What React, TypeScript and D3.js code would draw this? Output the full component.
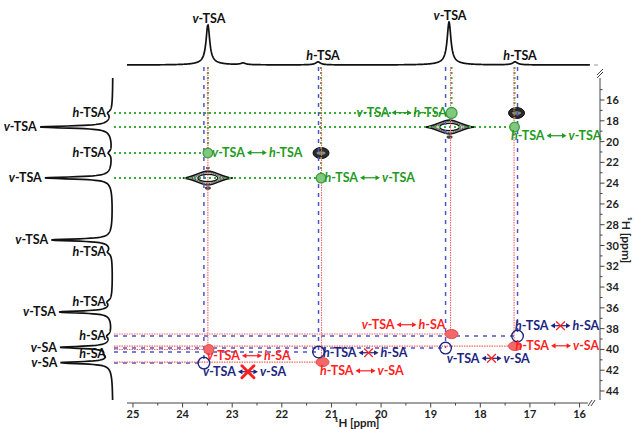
import React from 'react';
import * as d3 from 'd3';

// ---------- data ----------
const F2_TICKS = [25, 24, 23, 22, 21, 20, 19, 18, 17, 16];
const F2_MINOR = [24.5, 23.5, 22.5, 21.5, 20.5, 19.5, 18.5, 17.5, 16.5];
const F1_TICKS = [16, 18, 20, 22, 24, 26, 28, 30, 32, 34, 36, 38, 40, 42, 44];
const F1_MINOR = [15, 17, 19, 21, 23, 25, 27, 29, 31, 33, 35, 37, 39, 41, 43];

// top (F2) projection
const topPeakPpm = [23.49, 22.78, 21.27, 18.63, 17.3];
const topPeakIntensity = [0.93, 0.04, 0.07, 1.0, 0.07];
const topPeakWidth = [0.045, 0.06, 0.06, 0.045, 0.06];
const topPeakLabels = ['v-TSA', '', 'h-TSA', 'v-TSA', 'h-TSA'];

// left (F1) projection
const leftPeakPpm = [17.25, 18.6, 21.1, 23.5, 29.47, 30.63, 35.44, 36.4, 38.71, 39.8, 40.44, 41.28];
const leftPeakIntensity = [0.05, 1.0, 0.05, 0.93, 0.84, 0.05, 0.05, 0.73, 0.05, 0.7, 0.05, 0.7];
const leftPeakWidth = [0.22, 0.12, 0.22, 0.12, 0.12, 0.22, 0.22, 0.12, 0.22, 0.12, 0.22, 0.12];
const leftPeakLabels = ['h-TSA', 'v-TSA', 'h-TSA', 'v-TSA', 'v-TSA', 'h-TSA', 'h-TSA', 'v-TSA', 'h-SA', 'v-SA', 'h-SA', 'v-SA'];

// diagonal peaks
const diagF2 = [17.27, 18.62, 21.21, 23.49];
const diagF1 = [17.25, 18.6, 21.1, 23.51];
const diagType = ['h', 'v', 'h', 'v'];

// green cross peaks (TSA-TSA)
const greenF2 = [18.58, 17.31, 23.49, 21.21];
const greenF1 = [17.25, 18.6, 21.1, 23.51];
const greenLabels = [['v-TSA', 'h-TSA'], ['h-TSA', 'v-TSA'], ['v-TSA', 'h-TSA'], ['h-TSA', 'v-TSA']];

// red cross peaks (observed TSA-SA)
const redF2 = [18.6, 17.32, 23.49, 21.2];
const redF1 = [38.52, 39.68, 40.01, 41.22];
const redLabels = [['v-TSA', 'h-SA'], ['h-TSA', 'v-SA'], ['v-TSA', 'h-SA'], ['h-TSA', 'v-SA']];

// blue (absent) cross peaks
const blueF2 = [17.25, 18.7, 21.26, 23.57];
const blueF1 = [38.71, 39.87, 40.25, 41.31];
const blueLabels = [['h-TSA', 'h-SA'], ['v-TSA', 'v-SA'], ['h-TSA', 'h-SA'], ['v-TSA', 'v-SA']];

// ---------- layout ----------
const greenLabelOffset = [[-50, 4], [42, 13], [49, 4], [49, 4]];
const redLabelOffset = [[-44, -5], [47, 4], [44, 10.5], [44, 13]];
const blueLabelOffset = [[43, -6], [46, 14.5], [50, 5], [44, 13]];

const FONT = "Lato, 'Open Sans', sans-serif";
const GREEN = '#1f9a22';
const RED = '#ff1f1f';
const BLUE = '#1c2680';

const x = d3.scaleLinear().domain([25.12, 15.85]).range([127, 587]);
const y = d3.scaleLinear().domain([16, 44]).range([100, 391]);

const TOP_BASE = 65;
const TOP_SCALE = 43;
const LEFT_BASE = 113;
const LEFT_SCALE = 73;

function lor(d: number, g: number) {
  return (g * g) / (d * d + g * g);
}

function topProfile(ppm: number) {
  let s = 0;
  topPeakPpm.forEach((p, i) => {
    const d = ppm - p;
    s += topPeakIntensity[i] * (0.95 * lor(d, topPeakWidth[i]) + 0.05 * lor(d, 0.25));
  });
  return s;
}

function leftProfile(ppm: number) {
  let s = 0;
  leftPeakPpm.forEach((p, i) => {
    const d = ppm - p;
    s += leftPeakIntensity[i] * (0.95 * lor(d, leftPeakWidth[i]) + 0.05 * lor(d, 0.9));
  });
  return s;
}

function Label({ cx, by, t1, t2, color, crossed, big }: any) {
  const hy = by - 4.3;
  const half = 10;
  const part = (t: string) => (
    <>
      <tspan fontStyle="italic">{t[0]}</tspan>
      <tspan>{t.slice(1)}</tspan>
    </>
  );
  const c = big ? 6 : 4;
  return (
    <g fontFamily={FONT} fontWeight={700} fontSize={12.5} fill={color}>
      <text x={cx - 12} y={by} textAnchor="end">{part(t1)}</text>
      <text x={cx + 12} y={by} textAnchor="start">{part(t2)}</text>
      <line x1={cx - half + 3} x2={cx + half - 3} y1={hy} y2={hy} stroke={color} strokeWidth={1.2} />
      <path d={`M${cx - half},${hy} l4.5,-2.6 v5.2 z`} fill={color} />
      <path d={`M${cx + half},${hy} l-4.5,-2.6 v5.2 z`} fill={color} />
      {crossed && (
        <g stroke={RED} strokeWidth={big ? 3 : 1.2} strokeLinecap="round">
          <line x1={cx - c} x2={cx + c} y1={hy - c} y2={hy + c} />
          <line x1={cx - c} x2={cx + c} y1={hy + c} y2={hy - c} />
        </g>
      )}
    </g>
  );
}

function diamondPath(cx: number, cy: number, a: number, b: number) {
  return `M${cx - a},${cy} C${cx - a * 0.55},${cy - b * 0.1} ${cx - a * 0.3},${cy - b} ${cx},${cy - b}` +
    ` C${cx + a * 0.3},${cy - b} ${cx + a * 0.55},${cy - b * 0.1} ${cx + a},${cy}` +
    ` C${cx + a * 0.55},${cy + b * 0.1} ${cx + a * 0.3},${cy + b} ${cx},${cy + b}` +
    ` C${cx - a * 0.3},${cy + b} ${cx - a * 0.55},${cy + b * 0.1} ${cx - a},${cy} Z`;
}

export default function App() {
  const topPts: [number, number][] = d3.range(127, 590.1, 0.3).map((px) => [px, TOP_BASE - topProfile(x.invert(px)) * TOP_SCALE]);
  const leftPts: [number, number][] = d3.range(78, 400.1, 0.3).map((py) => [LEFT_BASE - leftProfile(y.invert(py)) * LEFT_SCALE, py]);
  const line = d3.line();

  const LINE_TOP = 67;
  const LINE_LEFT = 114;

  return (
    <svg width={634} height={429} style={{ position: 'absolute', left: 0, top: 0, background: '#fff' }}>
      <rect width={634} height={429} fill="#fff" />

      {/* projections */}
      <path d={line(topPts) || ''} fill="none" stroke="#111" strokeWidth={1.7} />
      <line x1={594} x2={598} y1={TOP_BASE} y2={TOP_BASE} stroke="#999" strokeWidth={1} />
      <path d={line(leftPts) || ''} fill="none" stroke="#111" strokeWidth={1.7} />

      {/* projection labels */}
      <g fontFamily={FONT} fontWeight={700} fontSize={12.5} fill="#111">
        {topPeakLabels.map((lab, i) => {
          if (!lab) return null;
          const px = x(topPeakPpm[i]) + (lab[0] === 'h' ? 5 : 1);
          const top = TOP_BASE - topProfile(topPeakPpm[i]) * TOP_SCALE;
          return (
            <text key={'tl' + i} x={px} y={top - 2} textAnchor="middle">
              <tspan fontStyle="italic">{lab[0]}</tspan>{lab.slice(1)}
            </text>
          );
        })}
        {leftPeakLabels.map((lab, i) => {
          const py = y(leftPeakPpm[i]);
          const tip = LEFT_BASE - leftProfile(leftPeakPpm[i]) * LEFT_SCALE;
          const ex = lab[0] === 'h' ? 106 : tip - 3;
          return (
            <text key={'ll' + i} x={ex} y={py + 4.4} textAnchor="end">
              <tspan fontStyle="italic">{lab[0]}</tspan>{lab.slice(1)}
            </text>
          );
        })}
      </g>

      {/* diagonal peaks */}
      {diagF2.map((f2, i) => {
        const cx = x(f2), cy = y(diagF1[i]);
        if (diagType[i] === 'v') {
          return (
            <g key={'dg' + i}>
              <path d={diamondPath(cx, cy, 25, 7)} fill="#9a9a9a" stroke="#111" strokeWidth={1.4} />
              <path d={diamondPath(cx, cy, 19, 5.6)} fill="#d0d0d0" stroke="#444" strokeWidth={0.9} strokeDasharray="1.5,1" />
              <ellipse cx={cx} cy={cy} rx={10} ry={3.6} fill="#fff" stroke="#111" strokeWidth={1.3} />
              <ellipse cx={cx} cy={cy - 10} rx={2} ry={1.4} fill="#555" />
              <ellipse cx={cx} cy={cy + 10} rx={3} ry={1.8} fill="#444" />
            </g>
          );
        }
        return (
          <g key={'dg' + i}>
            <ellipse cx={cx} cy={cy} rx={8} ry={5.5} fill="#2a2a2a" stroke="#111" strokeWidth={1} />
            <ellipse cx={cx} cy={cy} rx={4.5} ry={1.8} fill="#8a8a8a" />
          </g>
        );
      })}

      {/* connecting lines */}
      <g fill="none">
        {greenF2.map((f2, i) => (
          <g key={'gl' + i} stroke="#3aab3a" strokeWidth={2} strokeDasharray="2,3">
            <line x1={x(f2)} x2={x(f2)} y1={LINE_TOP} y2={y(greenF1[i])} />
            <line x1={LINE_LEFT} x2={x(f2)} y1={y(greenF1[i])} y2={y(greenF1[i])} />
          </g>
        ))}
        {blueF2.map((f2, i) => (
          <g key={'bl' + i} stroke="#4c57c4" strokeWidth={1.5} strokeDasharray="4,5">
            <line x1={x(f2)} x2={x(f2)} y1={LINE_TOP} y2={y(blueF1[i])} />
            <line x1={LINE_LEFT} x2={x(f2)} y1={y(blueF1[i])} y2={y(blueF1[i])} />
          </g>
        ))}
        {redF2.map((f2, i) => (
          <g key={'rl' + i} stroke="#ff6262" strokeWidth={1.1} strokeDasharray="1.5,1">
            <line x1={x(f2)} x2={x(f2)} y1={LINE_TOP} y2={y(redF1[i])} />
            <line x1={LINE_LEFT} x2={x(f2)} y1={y(redF1[i])} y2={y(redF1[i])} />
          </g>
        ))}
      </g>

      {/* cross-peak markers */}
      {greenF2.map((f2, i) => (
        <circle key={'gm' + i} cx={x(f2)} cy={y(greenF1[i])} r={i === 0 ? 5.5 : 4.8} fill="#80c880" stroke="#3e9e3e" strokeWidth={1.3} />
      ))}
      {redF2.map((f2, i) => (
        <ellipse key={'rm' + i} cx={x(f2) + 1} cy={y(redF1[i])} rx={i === 2 ? 5 : 6.5} ry={i === 2 ? 5 : 4.5} fill="#f26868" stroke="#ea4a4a" strokeWidth={1} />
      ))}
      {blueF2.map((f2, i) => (
        <circle key={'bm' + i} cx={x(f2)} cy={y(blueF1[i])} r={5.8} fill="none" stroke={BLUE} strokeWidth={1.4} />
      ))}

      {/* cross-peak labels */}
      {greenF2.map((f2, i) => (
        <Label key={'gt' + i} cx={x(f2) + greenLabelOffset[i][0]} by={y(greenF1[i]) + greenLabelOffset[i][1]}
          t1={greenLabels[i][0]} t2={greenLabels[i][1]} color={GREEN} />
      ))}
      {redF2.map((f2, i) => (
        <Label key={'rt' + i} cx={x(f2) + redLabelOffset[i][0]} by={y(redF1[i]) + redLabelOffset[i][1]}
          t1={redLabels[i][0]} t2={redLabels[i][1]} color={RED} />
      ))}
      {blueF2.map((f2, i) => (
        <Label key={'bt' + i} cx={x(f2) + blueLabelOffset[i][0]} by={y(blueF1[i]) + blueLabelOffset[i][1]}
          t1={blueLabels[i][0]} t2={blueLabels[i][1]} color={BLUE} crossed big={i === 3} />
      ))}

      {/* x axis */}
      <g stroke="#444" strokeWidth={1}>
        <line x1={127} x2={588} y1={403} y2={403} />
        {F2_TICKS.map((t) => <line key={'xt' + t} x1={x(t)} x2={x(t)} y1={403} y2={407.5} />)}
        {F2_MINOR.map((t) => <line key={'xm' + t} x1={x(t)} x2={x(t)} y1={403} y2={405.5} />)}
        <line x1={588} x2={592} y1={406} y2={400} />
        <line x1={591} x2={595} y1={406} y2={400} />
      </g>
      <g fontFamily={FONT} fontWeight={700} fontSize={11} fill="#222" textAnchor="middle">
        {F2_TICKS.map((t) => <text key={'xl' + t} x={x(t)} y={418}>{t}</text>)}
        <text x={357} y={426.5} fontSize={11.5}>¹H [ppm]</text>
      </g>

      {/* y axis */}
      <g stroke="#444" strokeWidth={1}>
        <line x1={600} x2={600} y1={78} y2={400} />
        {F1_TICKS.map((t) => <line key={'yt' + t} x1={600} x2={604.5} y1={y(t)} y2={y(t)} />)}
        {F1_MINOR.map((t) => <line key={'ym' + t} x1={600} x2={602.5} y1={y(t)} y2={y(t)} />)}
        <line x1={597} x2={603} y1={78} y2={72} />
        <line x1={597} x2={603} y1={75} y2={69} />
      </g>
      <g fontFamily={FONT} fontWeight={700} fontSize={11} fill="#222">
        {F1_TICKS.map((t) => <text key={'yl' + t} x={606} y={y(t) + 4}>{t}</text>)}
        <text transform="translate(622,240) rotate(90)" textAnchor="middle" fontSize={12}>¹H [ppm]</text>
      </g>
    </svg>
  );
}
